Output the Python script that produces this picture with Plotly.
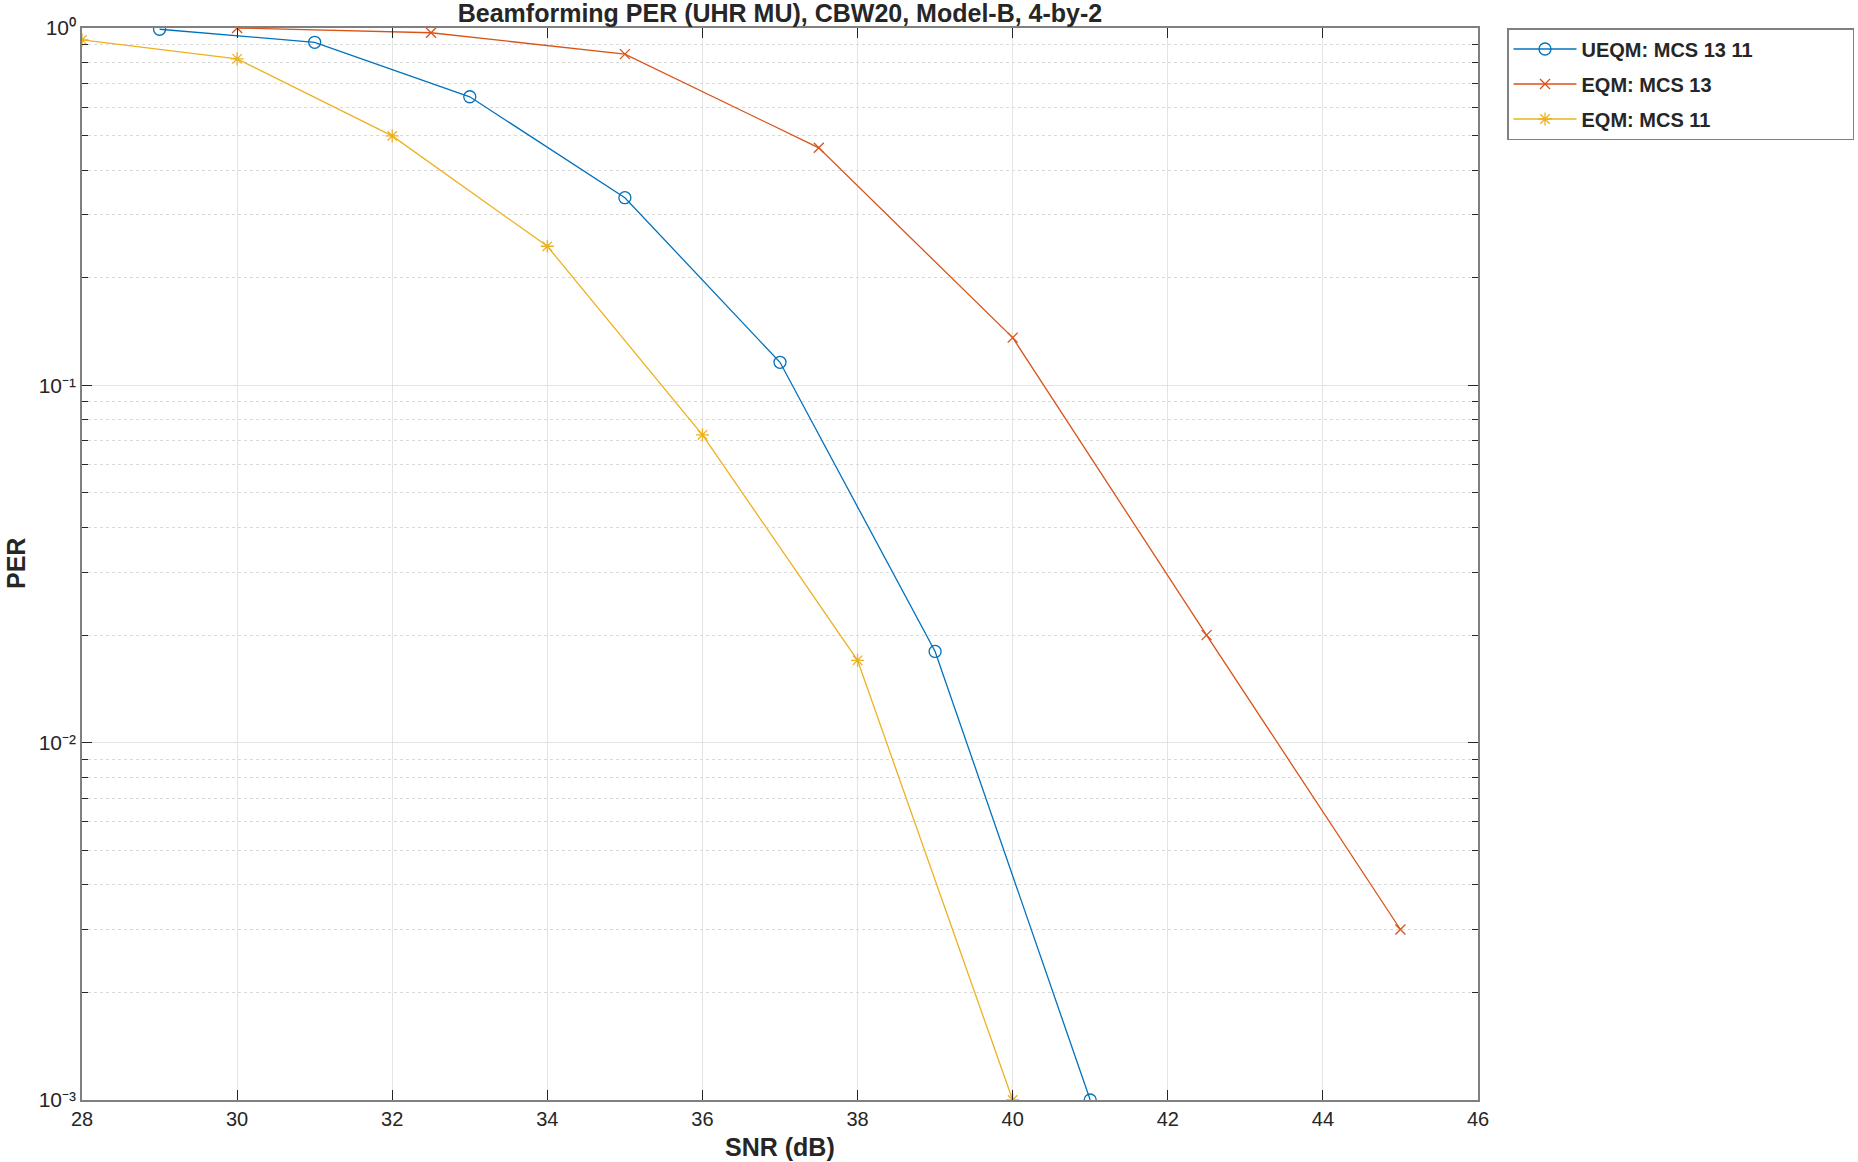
import plotly.graph_objects as go

snr_ueqm = [29, 31, 33, 35, 37, 39, 41]
per_ueqm = [0.992, 0.912, 0.642, 0.335, 0.116, 0.018, 0.001]

snr_eqm13 = [30, 32.5, 35, 37.5, 40, 42.5, 45]
per_eqm13 = [1.0, 0.97, 0.845, 0.462, 0.136, 0.020, 0.003]

snr_eqm11 = [28, 30, 32, 34, 36, 38, 40]
per_eqm11 = [0.926, 0.82, 0.499, 0.245, 0.0727, 0.017, 0.001]

x_ticks = [28, 30, 32, 34, 36, 38, 40, 42, 44, 46]
y_ticks = [1, 0.1, 0.01, 0.001]
y_ticktext = ["10⁰", "10⁻¹", "10⁻²", "10⁻³"]
y_minor = [m * 10.0 ** e for e in (-3, -2, -1) for m in range(2, 10)]

FONT = "Liberation Sans, Arial, Helvetica, sans-serif"
TXT = "#262626"
PAD = "\u00a0" * 17

L, R, T, B = 82, 380, 28, 62
W, H = 1858, 1162
PW = W - L - R

fig = go.Figure()
fig.add_trace(go.Scatter(x=snr_ueqm, y=per_ueqm, mode="lines+markers", name="<b>UEQM: MCS 13 11</b>" + PAD,
                         legendgroup="a",
                         line=dict(color="#0072BD", width=1.3),
                         marker=dict(symbol="circle-open", size=12, color="#0072BD", line=dict(width=1.3))))
fig.add_trace(go.Scatter(x=snr_eqm13, y=per_eqm13, mode="lines+markers", name="<b>EQM: MCS 13</b>",
                         legendgroup="b",
                         line=dict(color="#D95319", width=1.3),
                         marker=dict(symbol="x-thin-open", size=10, color="#D95319", line=dict(width=1.3, color="#D95319"))))
fig.add_trace(go.Scatter(x=snr_eqm11, y=per_eqm11, mode="lines+markers", name="<b>EQM: MCS 11</b>",
                         legendgroup="c",
                         line=dict(color="#EDB120", width=1.3),
                         marker=dict(symbol="asterisk-open", size=11, color="#EDB120", line=dict(width=1.3, color="#EDB120"))))

fig.update_layout(
    width=W, height=H,
    margin=dict(l=L, r=R, t=T, b=B, autoexpand=False),
    paper_bgcolor="white", plot_bgcolor="white",
    font=dict(family=FONT, size=20, color=TXT),
    title=dict(text="<b>Beamforming PER (UHR MU), CBW20, Model-B, 4-by-2</b>",
               x=(L + L + PW) / 2 / W, xanchor="center", y=1 - 13 / H, yanchor="middle",
               font=dict(size=25, color=TXT)),
    showlegend=True,
    legend=dict(x=(1507 - L) / PW, xanchor="left", y=1.0, yanchor="top",
                bordercolor="#808080", borderwidth=1.5, bgcolor="white",
                font=dict(size=20, color=TXT, family=FONT),
                itemwidth=63, tracegroupgap=6),
    annotations=[
        dict(text="<b>SNR (dB)</b>", xref="paper", yref="paper", x=0.5, y=0, yshift=-(1147 - (H - B)),
             xanchor="center", yanchor="middle", showarrow=False, font=dict(size=25, color=TXT)),
        dict(text="<b>PER</b>", xref="paper", yref="paper", x=0, y=0.5, xshift=-(L - 16),
             xanchor="center", yanchor="middle", textangle=-90, showarrow=False,
             font=dict(size=25, color=TXT)),
    ],
)
fig.update_xaxes(
    range=[28, 46], tickvals=x_ticks, ticktext=[str(v) for v in x_ticks],
    showline=True, linecolor="#808080", linewidth=1.5, mirror="allticks",
    ticks="inside", ticklen=10, tickcolor=TXT, tickwidth=1,
    showgrid=True, gridcolor="#e3e3e3", gridwidth=1, zeroline=False,
    tickfont=dict(size=20, color=TXT), automargin=False,
)
fig.update_yaxes(
    type="log", range=[-3, 0], tickvals=y_ticks, ticktext=y_ticktext,
    showline=True, linecolor="#808080", linewidth=1.5, mirror="allticks",
    ticks="inside", ticklen=10, tickcolor=TXT, tickwidth=1,
    showgrid=True, gridcolor="#e3e3e3", gridwidth=1, zeroline=False,
    tickfont=dict(size=21, color=TXT), automargin=False,
    minor=dict(tickvals=y_minor, ticks="inside", ticklen=6, tickcolor=TXT,
               showgrid=True, gridcolor="#d9d9d9", griddash="dot", gridwidth=1),
)
fig.write_html("out.html", config={"displayModeBar": False},
               post_script="document.body.style.margin='0';document.body.style.overflow='hidden';")
